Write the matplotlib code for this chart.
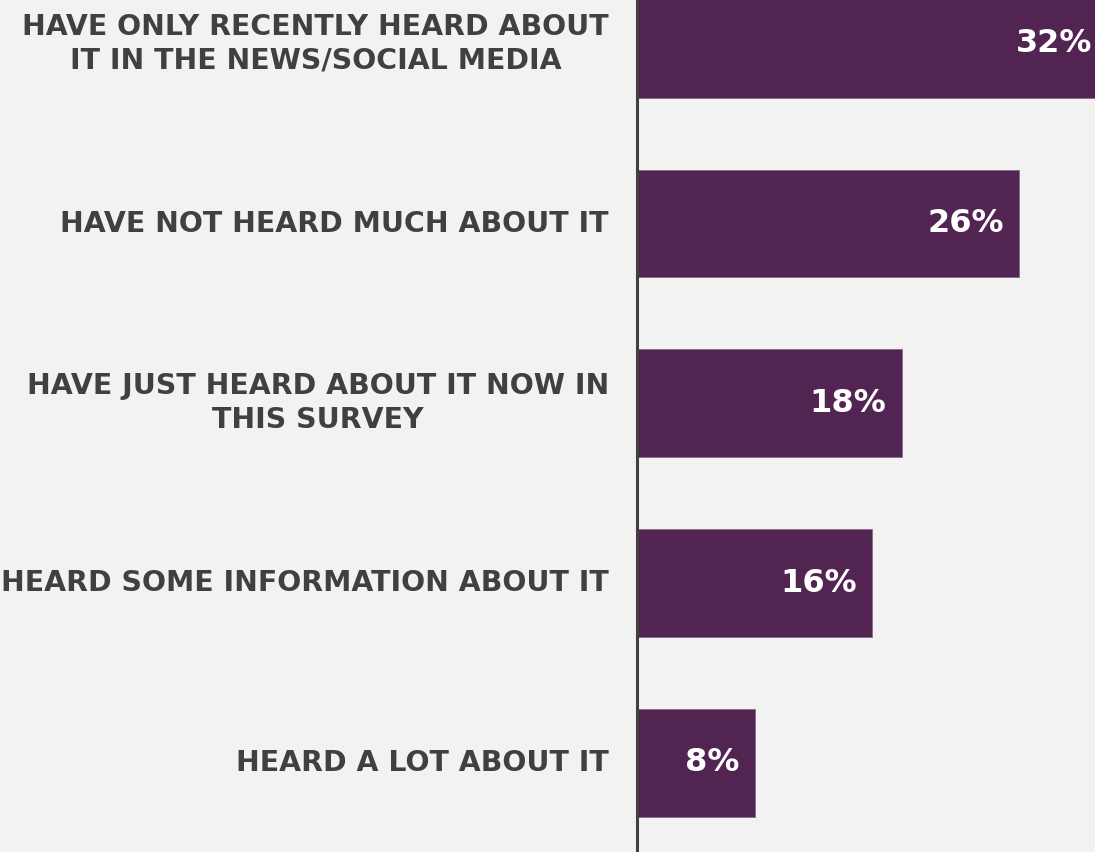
import matplotlib.pyplot as plt

categories = [
    'HAVE ONLY RECENTLY HEARD ABOUT\nIT IN THE NEWS/SOCIAL MEDIA',
    'HAVE NOT HEARD MUCH ABOUT IT',
    'HAVE JUST HEARD ABOUT IT NOW IN\nTHIS SURVEY',
    'HEARD SOME INFORMATION ABOUT IT',
    'HEARD A LOT ABOUT IT',
]
values = [32, 26, 18, 16, 8]
value_labels = ['32%', '26%', '18%', '16%', '8%']

BG = '#f2f2f2'
BAR = '#522452'
TEXT = '#404040'

fig = plt.figure(figsize=(10.95, 8.52), dpi=100, facecolor=BG)
ax = fig.add_axes([637 / 1095, 0, 1 - 637 / 1095, 1])
ax.set_facecolor(BG)

y = list(range(len(values)))
ax.barh(y, values, height=0.6, color=BAR, edgecolor='#8a6a8a', linewidth=0.6)

ax.set_xlim(0, 31.15)
ax.set_ylim(4.4965, -0.2434)

# percentage labels inside the bar ends
for yi, v, lab in zip(y, values, value_labels):
    ax.text(v - 1.05, yi, lab, ha='right', va='center', color='white',
            fontsize=23, fontweight='bold', family='DejaVu Sans')

# category names to the left of the axis line
for yi, cat in zip(y, categories):
    ax.annotate(cat, xy=(0, yi), xycoords=('axes fraction', 'data'),
                xytext=(-28, 0), textcoords='offset pixels',
                ha='right', va='center', multialignment='center',
                color=TEXT, fontsize=20.4, fontweight='bold',
                family='DejaVu Sans', linespacing=1.28)

ax.set_xticks([])
ax.set_yticks([])
for side in ['top', 'right', 'bottom']:
    ax.spines[side].set_visible(False)
ax.spines['left'].set_color(TEXT)
ax.spines['left'].set_linewidth(2.2)

fig.savefig('out.png', dpi=100, facecolor=BG)
